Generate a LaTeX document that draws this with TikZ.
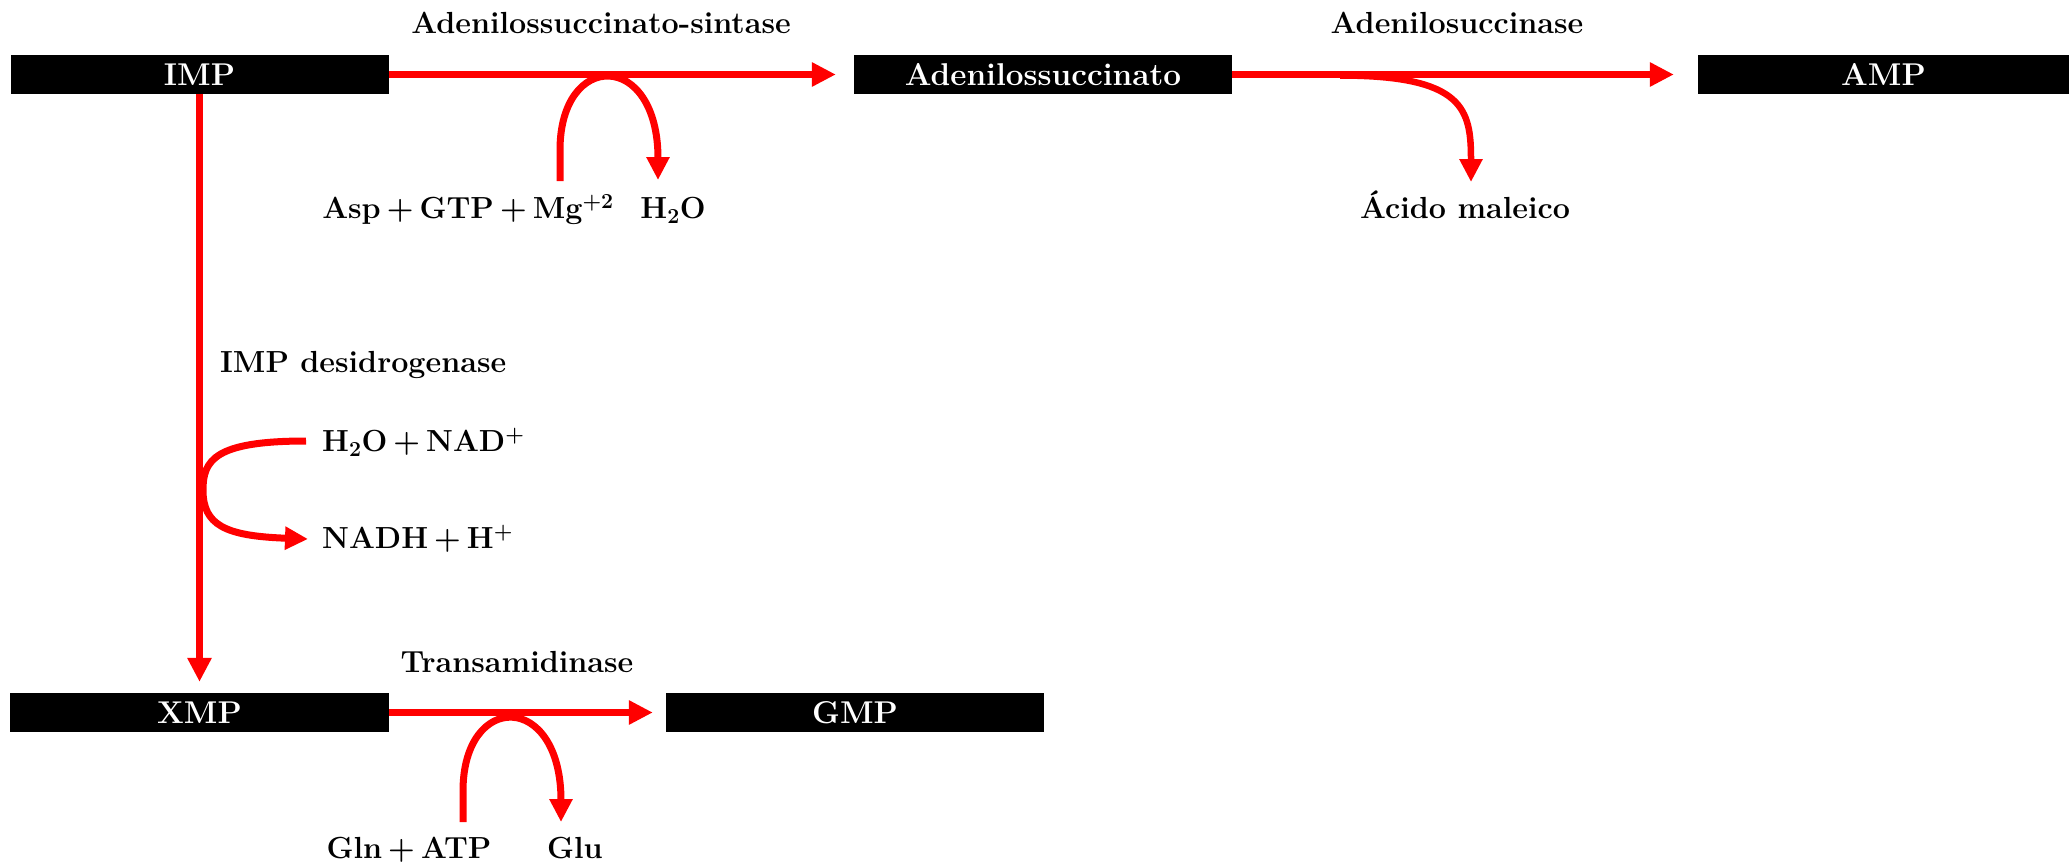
\documentclass[tikz,border=0pt]{standalone}
\usetikzlibrary{arrows.meta}
\definecolor{rxred}{RGB}{255,0,0}
\newcommand{\plusop}{\hspace{0.2em}+\hspace{0.2em}}
\begin{document}
\begin{tikzpicture}[x=1pt,y=-1pt,
  txt/.style={font=\fontsize{30.5}{34}\selectfont\bfseries},
  box/.style={font=\fontsize{31.5}{34}\selectfont\bfseries,fill=black,text=white,minimum width=378pt,minimum height=39pt,inner sep=0pt},
  lbl/.style={txt,inner sep=0pt,anchor=base},
  rx/.style={draw=rxred,line width=7.5pt,-{Triangle[length=24pt,width=23pt]}},
  side/.style={draw=rxred,line width=7pt,-{Triangle[length=23pt,width=22pt]}}]
\useasboundingbox (0,0) rectangle (2069,865);
% boxes
\node[box] (imp) at (199.5,74.5) {IMP};
\node[box] (ads) at (1043,74.5) {Adenilossuccinato};
\node[box,minimum width=371pt] (amp) at (1883.5,74.5) {AMP};
\node[box,minimum width=379pt] (xmp) at (199.5,712.5) {XMP};
\node[box] (gmp) at (855,712.5) {GMP};
% main arrows
\draw[rx,shorten >=18pt] (imp.east) -- (ads.west);
\draw[rx,shorten >=24pt] (ads.east) -- (amp.west);
\draw[rx,shorten >=11pt] (imp.south) -- (xmp.north);
\draw[rx,shorten >=13pt] (xmp.east) -- (gmp.west);
% side loops
\coordinate (l1a) at (560,181);
\coordinate (l1b) at (658,180);
\draw[side] (l1a) -- ++(0,-31) .. controls +(0,-100) and +(0,-130) .. (l1b);
\coordinate (l4a) at (463,822);
\coordinate (l4b) at (561,822);
\draw[side] (l4a) -- ++(0,-31) .. controls +(0,-100) and +(0,-131) .. (l4b);
\coordinate (l2a) at (1340,75.5);
\coordinate (l2b) at (1471,182);
\draw[side,line width=6.5pt] (l2a) .. controls +(125,0) and +(0,-72) .. (l2b);
\coordinate (l3a) at (306,441);
\coordinate (l3m) at (203,490);
\coordinate (l3b) at (308,539);
\draw[side] (l3a) .. controls +(-91,0) and +(0,-30) .. (l3m) .. controls +(0,35) and +(-83,-3) .. (l3b);
% labels
\node[lbl] (e1) at (601,33) {Adenilossuccinato-sintase};
\node[lbl] (e2) at (1457,33) {Adenilosuccinase};
\node[lbl] (s1) at (468,218) {Asp\plusop GTP\plusop Mg\textsuperscript{+2}};
\node[lbl] (p1) at (673,218) {H\textsubscript{2}O};
\node[lbl] (p2) at (1465,218) {Ácido maleico};
\node[lbl,anchor=base west] (e3) at (220,372) {IMP desidrogenase};
\node[lbl,anchor=base west] (s3) at (322,451) {H\textsubscript{2}O\plusop NAD\textsuperscript{+}};
\node[lbl,anchor=base west] (p3) at (322,548) {NADH\plusop H\textsuperscript{+}};
\node[lbl] (e4) at (517,672) {Transamidinase};
\node[lbl] (s4) at (409,858) {Gln\plusop ATP};
\node[lbl] (p4) at (575,858) {Glu};
\end{tikzpicture}
\end{document}
